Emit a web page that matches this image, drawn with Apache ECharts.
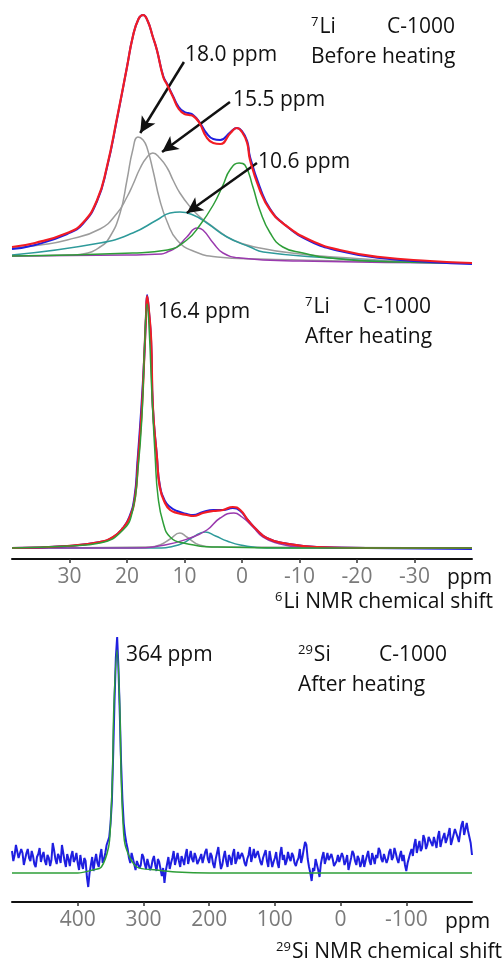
<!DOCTYPE html>
<html>
<head>
<meta charset="utf-8">
<title>C-1000 NMR</title>
<script src="https://cdn.jsdelivr.net/npm/echarts@6.0.0/dist/echarts.min.js"></script>
<style>
html, body { margin: 0; padding: 0; background: #fff; }
#chart { width: 503px; height: 961px; }
</style>
</head>
<body>
<div id="chart"></div>
<script>
// 7Li before heating: [ppm, intensity]
const beforeObs = [[40,16],[36,20],[30.4,31],[27.7,41],[25.2,64],[23.5,97],[21.7,147],[20,198],[19,228],[18,246],[17.2,250],[16.4,244],[15.5,228],[14.8,215],[13.7,189],[13,181],[12,169],[11,158],[10,153],[9.4,152],[8.5,150],[7.4,143],[6.2,132],[5.0,126],[3.8,125],[2,133],[0.9,137],[0,134],[-0.9,124],[-1.4,108],[-3.1,78],[-4.9,56],[-7.5,40],[-11.8,24],[-17,14],[-24,7],[-32.7,3],[-40,1]];
const beforeFit = [[40,18],[36,22],[30.4,32],[27.7,42],[25.2,65],[23.5,98],[21.7,148],[20,198],[19,228],[18,246],[17.2,250],[16.4,244],[15.5,228],[14.8,215],[13.7,188],[13,180],[12,168],[11,156],[10,151],[9.2,150],[8.5,149],[7.4,142],[6.2,128],[5.0,122],[3.8,121],[2,132],[0.9,137],[0,133],[-0.9,122],[-1.4,105],[-3.1,75],[-4.9,55],[-7.5,40],[-11.8,25],[-17,15],[-24,8],[-32.7,4],[-40,2]];
const before180 = [[40,9],[30,10],[27.7,11],[24.7,18],[23,28],[21.2,52],[20,85],[19,115],[18.1,128],[17.2,125],[16.5,117],[15.5,95],[14.3,65],[13,43],[11.3,25],[8.5,14],[4.3,8],[-3,6],[-19,4],[-40,2]];
const before155 = [[40,17],[35.1,20],[30.4,25],[24.7,36],[21.7,52],[20,68],[19,80],[17.7,97],[16.5,108],[15.5,112],[14.3,107],[13,97],[12,85],[10.8,72],[9,58],[7.3,48],[5,38],[1.6,25],[-3.1,17],[-10.1,11],[-18.8,7],[-27.5,4],[-40,2]];
const before106 = [[40,10],[24.7,22],[19,32],[14.8,45],[12.5,52],[10.8,53],[8.5,50],[6.1,42],[2.6,28],[-1.4,18],[-3.7,13],[-15.3,7],[-27,3],[-40,2]];
const before78 = [[40,9],[20,10],[14,11],[13,13],[11.3,18],[9.6,28],[7.8,37],[6.8,35],[5,22],[3.3,12],[0.3,7],[-10,4],[-40,2]];
const before05 = [[40,9],[19,12],[13,15],[9.6,25],[7.3,40],[5,60],[3.3,80],[2.1,95],[0.5,102],[-0.5,100],[-1.9,78],[-3.1,55],[-4.9,32],[-7.1,18],[-10.6,12],[-15.3,7],[-27,3],[-40,2]];

// 7Li after heating
const afterObs = [[40,2],[30.4,4],[24.7,8],[22.4,13],[20.7,22],[19.6,33],[18.7,53],[18.2,87],[17.5,143],[17.0,193],[16.7,233],[16.5,255],[16.2,240],[15.8,208],[15.5,143],[14.8,94],[14.3,65],[13.4,49],[12.5,43],[11.3,39],[9.6,36],[8.5,35],[6.8,38],[5,40],[3.3,40],[1.6,42],[0.3,39],[-1,30],[-2.6,20],[-4.3,12],[-7.1,7],[-13,3],[-21.7,2],[-40,1]];
const afterFit = [[40,2],[30.4,4],[24.7,8],[22.4,13],[20.7,22],[19.5,33],[18.6,53],[18.1,87],[17.4,143],[17.0,193],[16.7,233],[16.5,254],[16.2,240],[15.8,210],[15.5,143],[14.8,93],[14.3,63],[13.4,47],[12.5,40],[11.3,37],[9.6,35],[8.5,34],[6.8,37],[5,39],[3.3,40],[1.6,43],[0.3,40],[-1,30],[-2.6,20],[-4.3,12],[-7.1,7],[-13,3],[-21.7,2],[-40,2]];
const after164 = [[40,2],[30,4],[24.7,7],[20.7,20],[19,40],[18.1,80],[17.4,133],[16.9,210],[16.5,246],[16.1,215],[15.7,160],[15.1,93],[14.6,53],[13.7,27],[12.5,13],[10.2,7],[4.3,3],[-10,2],[-40,2]];
const after108 = [[40,2],[16,3],[14.3,5],[12.5,11],[10.8,17],[9.6,13],[7.4,5],[5,3],[-40,2]];
const after64 = [[40,2],[14,2],[12.5,3],[10.2,7],[8.5,13],[6.4,18],[4.6,14],[2.6,9],[0.3,5],[-4.3,2],[-40,2]];
const after14 = [[40,2],[19,2],[13.4,5],[9,12],[6.1,20],[3.8,32],[1.4,37],[0,33],[-1.9,23],[-3.6,13],[-6,7],[-10,3],[-16,2],[-40,2]];

// 29Si after heating, observed spectrum read every 2 ppm
const siObs = [
  [500,22],[498,12],[496,18],[494,28],[492,26],[490,15],[488,14],[486,24],[484,20],[482,8],
  [480,10],[478,20],[476,24],[474,15],[472,12],[470,22],[468,17],[466,9],[464,6],[462,16],
  [460,19],[458,25],[456,11],[454,17],[452,21],[450,12],[448,8],[446,18],[444,15],[442,7],
  [440,13],[438,30],[436,23],[434,14],[432,9],[430,19],[428,16],[426,10],[424,28],[422,20],
  [420,12],[418,6],[416,19],[414,14],[412,7],[410,17],[408,22],[406,11],[404,14],[402,20],
  [400,10],[398,3],[396,18],[394,9],[392,4],[390,15],[388,12],[386,-4],[384,-14],[382,0],
  [380,8],[378,16],[376,2],[374,12],[372,19],[370,10],[368,6],[366,17],[364,24],[362,10],
  [360,14],[358,20],[356,28],[354,30],[352,36],[350,50],[348,72],[346,120],[344,172],[342,215],
  [340,236],[338,205],[336,160],[334,110],[332,74],[330,50],[328,38],[326,30],[324,24],[322,15],
  [320,10],[318,20],[316,18],[314,9],[312,3],[310,12],[308,14],[306,5],[304,8],[302,19],
  [300,16],[298,9],[296,4],[294,14],[292,12],[290,3],[288,6],[286,13],[284,17],[282,8],
  [280,2],[278,14],[276,11],[274,4],[272,-3],[270,5],[268,-10],[266,2],[264,9],[262,16],
  [260,4],[258,10],[256,15],[254,22],[252,8],[250,14],[248,20],[246,12],[244,6],[242,17],
  [240,13],[238,8],[236,18],[234,24],[232,9],[230,15],[228,22],[226,14],[224,11],[222,20],
  [220,16],[218,9],[216,7],[214,15],[212,19],[210,10],[208,12],[206,21],[204,24],[202,14],
  [200,10],[198,20],[196,17],[194,9],[192,5],[190,14],[188,20],[186,26],[184,13],[182,4],
  [180,8],[178,16],[176,22],[174,12],[172,6],[170,18],[168,15],[166,8],[164,19],[162,24],
  [160,9],[158,13],[156,21],[154,14],[152,12],[150,20],[148,16],[146,10],[144,7],[142,14],
  [140,18],[138,26],[136,11],[134,17],[132,24],[130,15],[128,14],[126,22],[124,20],[122,11],
  [120,8],[118,15],[116,17],[114,23],[112,12],[110,6],[108,22],[106,14],[104,6],[102,11],
  [100,15],[98,21],[96,10],[94,5],[92,19],[90,26],[88,13],[86,18],[84,8],[82,12],
  [80,21],[78,15],[76,12],[74,20],[72,17],[70,10],[68,7],[66,12],[64,15],[62,24],
  [60,10],[58,16],[56,24],[54,31],[52,28],[50,14],[48,6],[46,0],[44,-8],[42,5],
  [40,2],[38,14],[36,12],[34,3],[32,-4],[30,9],[28,16],[26,21],[24,9],[22,14],
  [20,20],[18,13],[16,11],[14,19],[12,14],[10,7],[8,5],[6,12],[4,18],[2,11],
  [0,9],[-2,20],[-4,16],[-6,8],[-8,12],[-10,18],[-12,3],[-14,9],[-16,15],[-18,22],
  [-20,19],[-22,12],[-24,8],[-26,17],[-28,14],[-30,6],[-32,10],[-34,18],[-36,6],[-38,12],
  [-40,17],[-42,22],[-44,12],[-46,8],[-48,20],[-50,15],[-52,9],[-54,18],[-56,15],[-58,25],
  [-60,22],[-62,14],[-64,11],[-66,19],[-68,18],[-70,10],[-72,14],[-74,21],[-76,24],[-78,13],
  [-80,16],[-82,25],[-84,20],[-86,14],[-88,10],[-90,17],[-92,22],[-94,12],[-96,18],[-98,8],
  [-100,2],[-102,10],[-104,12],[-106,20],[-108,24],[-110,17],[-112,28],[-114,34],[-116,20],[-118,26],
  [-120,32],[-122,22],[-124,25],[-126,38],[-128,34],[-130,24],[-132,28],[-134,36],[-136,38],[-138,30],
  [-140,27],[-142,36],[-144,31],[-146,25],[-148,36],[-150,42],[-152,26],[-154,32],[-156,33],[-158,40],
  [-160,30],[-162,34],[-164,39],[-166,45],[-168,28],[-170,33],[-172,35],[-174,44],[-176,42],[-178,36],
  [-180,31],[-182,40],[-184,48],[-186,52],[-188,38],[-190,44],[-192,50],[-194,42],[-196,36],[-198,30],
  [-200,18]
];
const siFit = [[500,0],[400,0],[377,3],[364,6],[353,26],[350,50],[347,100],[345,166],[340,223],[336,166],[334,100],[331,50],[327,26],[310,6],[280,3],[250,1],[200,0],[-200,0]];

const liTicks = [30, 20, 10, 0, -10, -20, -30];
const siTicks = [400, 300, 200, 100, 0, -100];

// arrows for the "before" panel, from label to peak (ppm, intensity)
const arrowsBefore = [
  [[10.1, 203], [17.7, 132]],
  [[2.1, 163], [13.9, 113]],
  [[-2.6, 102], [9.6, 52]]
];

const C = {
  red: "#f21c24",
  blue: "#1f1fe0",
  grey: "#9c9c9c",
  teal: "#2e9a9a",
  purple: "#9a3aae",
  green: "#2e9e38"
};
const FONT = "Open Sans";

const chart = echarts.init(document.getElementById("chart"));

const line = (data, color, grid, width, z, smooth) => ({
  type: "line",
  xAxisIndex: grid,
  yAxisIndex: grid,
  data: data,
  showSymbol: false,
  smooth: smooth === undefined ? true : smooth,
  lineStyle: { color: color, width: width },
  z: z,
  silent: true
});

const xAxisBase = (idx, min, max, ticks, show) => ({
  type: "value",
  gridIndex: idx,
  min: min,
  max: max,
  inverse: true,
  show: show,
  splitLine: { show: false },
  axisLine: { show: true, onZero: false, lineStyle: { color: "#111", width: 2 } },
  axisTick: { show: true, customValues: ticks, length: 4, lineStyle: { color: "#333", width: 1.5 } },
  axisLabel: { customValues: ticks, color: "#7a7a7a", fontSize: 21, fontFamily: FONT, margin: 8 }
});

const yAxisBase = (idx, min, max) => ({
  type: "value", gridIndex: idx, min: min, max: max, show: false
});

const text = (x, y, str, align, size) => ({
  type: "text",
  x: x,
  y: y,
  style: {
    text: str,
    fill: "#111",
    fontSize: size || 21,
    fontFamily: FONT,
    align: align || "left",
    verticalAlign: "middle",
    rich: {
      s: { fontSize: 13, fontFamily: FONT, fill: "#111", padding: [0, 1, 10, 0] }
    }
  }
});

const option = {
  backgroundColor: "#fff",
  animation: false,
  grid: [
    { left: 12, right: 31, top: 0, height: 265 },
    { left: 12, right: 31, top: 280, height: 279 },
    { left: 12, right: 31, top: 630, height: 272 }
  ],
  xAxis: [
    xAxisBase(0, -40, 40, liTicks, false),
    xAxisBase(1, -40, 40, liTicks, true),
    xAxisBase(2, -200, 500, siTicks, true)
  ],
  yAxis: [yAxisBase(0, 0, 265), yAxisBase(1, -9, 270), yAxisBase(2, -29, 243)],
  series: [
    line(before180, C.grey, 0, 1.5, 2),
    line(before155, C.grey, 0, 1.5, 2),
    line(before106, C.teal, 0, 1.5, 3),
    line(before78, C.purple, 0, 1.5, 3),
    line(before05, C.green, 0, 1.5, 3),
    line(beforeObs, C.blue, 0, 2, 4),
    Object.assign(line(beforeFit, C.red, 0, 2.2, 5), {
      markLine: {
        silent: true,
        symbol: ["none", "arrow"],
        symbolSize: [12, 16],
        label: { show: false },
        lineStyle: { color: "#111", width: 2.5, type: "solid" },
        data: arrowsBefore.map(a => [{ coord: a[0] }, { coord: a[1] }])
      }
    }),

    line(after108, C.grey, 1, 1.5, 2),
    line(after64, C.teal, 1, 1.5, 3),
    line(after14, C.purple, 1, 1.5, 3),
    line(afterObs, C.blue, 1, 2, 4),
    line(afterFit, C.red, 1, 2.2, 5),
    line(after164, C.green, 1, 1.5, 6),

    line(siObs, C.blue, 2, 2, 4, false),
    line(siFit, C.green, 2, 1.5, 5, 0.3)
  ],
  graphic: [
    text(311, 27, "{s|7}Li"),
    text(387, 27, "C-1000"),
    text(311, 57, "Before heating"),
    text(185, 55, "18.0 ppm"),
    text(233, 100, "15.5 ppm"),
    text(258, 162, "10.6 ppm"),

    text(305, 307, "{s|7}Li"),
    text(363, 307, "C-1000"),
    text(305, 337, "After heating"),
    text(158, 312, "16.4 ppm"),
    text(447, 578, "ppm"),
    text(493, 602, "{s|6}Li NMR chemical shift", "right"),

    text(298, 655, "{s|29}Si"),
    text(379, 655, "C-1000"),
    text(298, 685, "After heating"),
    text(126, 655, "364 ppm"),
    text(445, 922, "ppm"),
    text(502, 952, "{s|29}Si NMR chemical shift", "right")
  ]
};

chart.setOption(option);
</script>
</body>
</html>
